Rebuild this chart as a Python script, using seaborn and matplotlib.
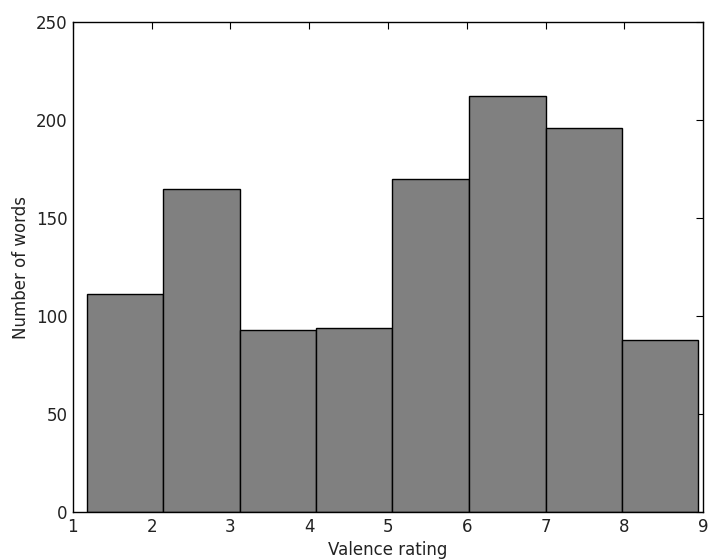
import numpy as np
import pandas as pd
import matplotlib
matplotlib.use('Agg')
import matplotlib.pyplot as plt
import seaborn as sns

# bin edges and counts
bin_edges = [1.175, 2.145, 3.115, 4.085, 5.05, 6.03, 7.0, 7.97, 8.94]
counts = [111, 165, 93, 94, 170, 212, 196, 88]

centers = [(a + b) / 2 for a, b in zip(bin_edges[:-1], bin_edges[1:])]
df = pd.DataFrame({'Valence': centers, 'n': counts})

sns.set_style('white')
plt.rcParams['font.family'] = ['DejaVu Sans']

fig = plt.figure(figsize=(7.08, 5.6), dpi=100)
ax = fig.add_axes([0.103, 0.0857, 0.890, 0.875])
sns.histplot(data=df, x='Valence', weights='n', bins=bin_edges, color='#808080',
             alpha=1, edgecolor='black', linewidth=1, ax=ax)

ax.set_xlim(1, 9)
ax.set_ylim(0, 250)
ax.set_xticks(range(1, 10))
ax.set_yticks(range(0, 251, 50))
ax.tick_params(direction='in', top=True, right=True, length=5, width=0.8,
               labelsize=12, colors='black', labelcolor='#222222', pad=4)
for s in ax.spines.values():
    s.set_visible(True)
    s.set_color('black')
    s.set_linewidth(1)
ax.set_xlabel('Valence rating', fontsize=12, labelpad=4, color='#222222')
ax.set_ylabel('Number of words', fontsize=12, color='#222222')

plt.savefig('out.png', dpi=100)
